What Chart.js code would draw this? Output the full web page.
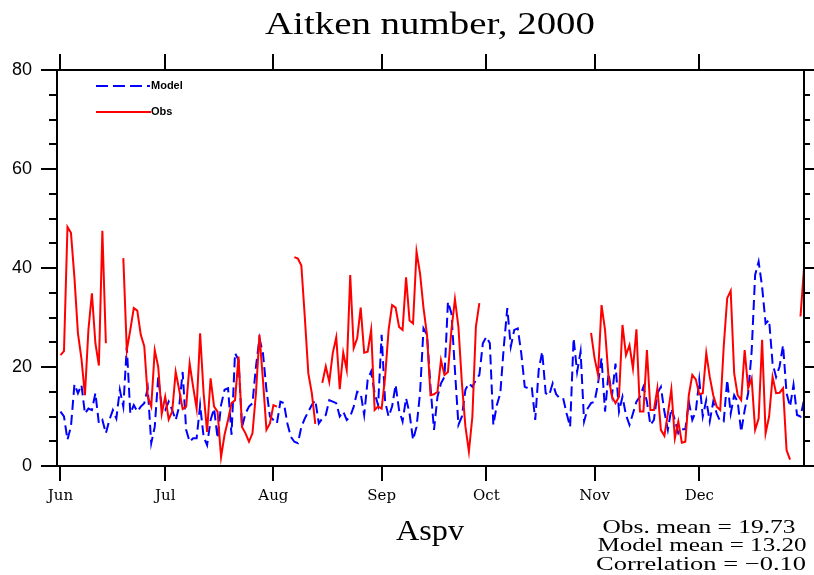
<!DOCTYPE html>
<html>
<head>
<meta charset="utf-8">
<script src="https://cdn.jsdelivr.net/npm/chart.js@4.4.0/dist/chart.umd.min.js"></script>
<style>
  html, body { margin: 0; padding: 0; background: #fff; }
  #wrap { width: 814px; height: 575px; }
</style>
</head>
<body>
<div id="wrap"><canvas id="aitken" width="814" height="575"></canvas></div>
<script>
// day index 0 = Jun 1, 2000; month ticks at first of each month
const monthStarts = [0, 30, 61, 92, 122, 153, 183];
const monthNames = ["Jun", "Jul", "Aug", "Sep", "Oct", "Nov", "Dec"];
const yTicks = [0, 20, 40, 60, 80];

const model = [
  11, 10, 5.3, 8, 16.5, 14.7, 16.4, 10.6, 11.6, 11.3,
  14.7, 8.6, 9.3, 6.6, 9.3, 11.3, 9.6, 15.4, 12, 24.1,
  10.6, 12.3, 11, 12, 12.7, 15.7, 4.6, 7.9, 18, 12,
  11.3, 13, 11.3, 9.3, 12, 19, 7.3, 4.9, 5.6, 5.6,
  12.3, 5.9, 4.2, 9.3, 11.6, 5.6, 12.3, 15.4, 15.7, 6.3,
  22.8, 21.4, 7.9, 10.6, 12, 12.7, 20.1, 25.8, 22.8, 15.4,
  10, 9.3, 8.6, 13, 12.7, 8.6, 5.9, 4.9, 4.6, 7.9,
  9.6, 11, 12.3, 13.3, 8.6, 9.6, 10.3, 13.3, 13, 12.7,
  10, 11, 9.3, 10, 12, 15, 14.7, 10.3, 17.4, 19.1,
  14.7, 12.3, 26.5, 13, 10, 12, 16.4, 11.3, 9, 13.7,
  10.6, 5.3, 7.9, 14.7, 27.8, 26.5, 16, 7.3, 14, 16.7,
  18, 33.2, 30.8, 19.4, 8.3, 10, 15.4, 16.7, 16, 17.4,
  18.4, 24.8, 26.1, 24.8, 8.3, 12.3, 14.7, 24.1, 31.9, 24.1,
  27.5, 27.8, 22.8, 16, 15.7, 16, 9.3, 19.4, 23.1, 14.7,
  14.3, 16.7, 14.5, 13.7, 13.7, 10.6, 7.9, 25.8, 19, 23.1,
  9, 11.6, 12.7, 13, 16.7, 21.8, 11, 18.7, 14.3, 20.7,
  11, 14, 10.3, 8.3, 10.6, 13, 14, 16, 13, 8.3,
  9.3, 14.7, 16, 11, 7.3, 11.6, 9.3, 6.6, 7.4, 7.4,
  13, 9.3, 11, 17.4, 10, 13.3, 9, 13, 10.6, 9,
  9, 17.4, 10.6, 14.3, 13, 6.9, 11.3, 14.7, 23.1, 38.6,
  41.3, 36.2, 28.8, 29.5, 20.7, 18, 20.1, 24.4, 14.7, 12,
  16.4, 10.3, 10, 13.3
];

const obs = [
  22.4, 23.2, 48.3, 47.1, 38, 26.8, 21.7, 14.3, 27.5, 34.9,
  24.8, 20.3, 47.5, 24.8, null, null, null, null, 42, 23.4,
  27.5, 31.9, 31.4, 26.5, 24.2, 14, 12, 23.4, 20, 10.5,
  14, 9.4, 11, 19, 15.4, 11.5, 12, 20.7, 16, 11.6,
  26.8, 14.7, 6.9, 17.7, 12, 11, 1.8, 6.3, 9.3, 12.7,
  13.3, 22.1, 7.9, 6.6, 4.9, 6.6, 14.7, 26.5, 17.4, 7.3,
  8.6, 12.3, 12, null, null, null, null, 42.2, 41.9, 40.5,
  30, 18.7, 14.7, 8.5, null, 16.8, 20.1, 17, 22.8, 26,
  15.5, 22.9, 19.4, 38.6, 23.8, 25.8, 32, 22.9, 23.1, 27.5,
  11.3, 12, 11.6, 18, 27.5, 32.5, 32, 28.1, 27.5, 38.1,
  29.4, 28.8, 43.3, 38.9, 31.9, 26.5, 14.3, 14.5, 15, 21.4,
  18.4, 19, 27.5, 33.7, 28.1, 16.7, 8, 2.9, 10, 28.1,
  32.9, null, null, null, null, null, null, null, null, null,
  null, null, null, null, null, null, null, null, null, null,
  null, null, null, null, null, null, null, null, null, null,
  null, null, 26.9, 21.8, 18.4, 32.5, 27.5, 18, 14, 12.7,
  14, 28.5, 22.4, 24.4, 19.7, 27.6, 11, 11, 23.4, 11.3,
  11.3, 15.7, 7.3, 6.1, 10.6, 15.5, 5.6, 9, 4.7, 4.9,
  14.3, 18.4, 17.5, 14.5, 14.7, 22.8, 18, 14.3, 12, 11.3,
  24.1, 33.9, 35.4, 18.7, 14.3, 13.3, 23.4, 15.7, 17.7, 7.3,
  9.6, 25.5, 6.6, 10, 18, 14.7, 14.8, 15.7, 3.2, 1.3,
  null, null, 30.2, 40
];

const toPoints = arr => arr.map((v, i) => ({ x: i, y: v }));

// draw text squeezed/stretched to a given width
function fitText(ctx, text, cx, baseY, font, width) {
  ctx.save();
  ctx.font = font;
  const w = ctx.measureText(text).width;
  ctx.translate(cx, baseY);
  ctx.scale(width / w, 1);
  ctx.textAlign = "center";
  ctx.textBaseline = "alphabetic";
  ctx.fillText(text, 0, 0);
  ctx.restore();
}

const framePlugin = {
  id: "frame",
  afterDraw(chart) {
    const { ctx, chartArea: a, scales } = chart;
    const x = scales.x, y = scales.y;
    ctx.save();
    ctx.strokeStyle = "#000";
    ctx.fillStyle = "#000";
    ctx.lineWidth = 2;
    ctx.strokeRect(a.left, a.top, a.right - a.left, a.bottom - a.top);

    ctx.beginPath();
    for (let v = 0; v <= 80; v += 5) {
      const py = Math.round(y.getPixelForValue(v));
      const major = v % 20 === 0;
      ctx.moveTo(a.left - (major ? 16 : 8), py);
      ctx.lineTo(a.left, py);
      ctx.moveTo(a.right, py);
      ctx.lineTo(a.right + (major ? 10 : 6), py);
    }
    monthStarts.forEach(d => {
      const px = Math.round(x.getPixelForValue(d));
      ctx.moveTo(px, a.top - 16);
      ctx.lineTo(px, a.top);
      ctx.moveTo(px, a.bottom);
      ctx.lineTo(px, a.bottom + 15);
    });
    ctx.stroke();

    // legend
    ctx.lineWidth = 2;
    ctx.strokeStyle = "#0000ff";
    ctx.setLineDash([12, 5]);
    ctx.beginPath();
    ctx.moveTo(96, 86);
    ctx.lineTo(150, 86);
    ctx.stroke();
    ctx.setLineDash([]);
    ctx.strokeStyle = "#ff0000";
    ctx.beginPath();
    ctx.moveTo(96, 112);
    ctx.lineTo(151, 112);
    ctx.stroke();
    ctx.font = "bold 11px 'Liberation Sans'";
    ctx.textBaseline = "middle";
    ctx.textAlign = "left";
    ctx.fillText("Model", 151, 86);
    ctx.fillText("Obs", 151, 112);

    // title and annotations
    fitText(ctx, "Aitken number, 2000", 430, 34, "32px 'Liberation Serif'", 330);
    fitText(ctx, "Aspv", 430, 540, "30px 'Liberation Serif'", 68);
    fitText(ctx, "Obs. mean = 19.73", 699, 533, "19px 'Liberation Serif'", 193);
    fitText(ctx, "Model mean = 13.20", 702, 551, "19px 'Liberation Serif'", 209);
    fitText(ctx, "Correlation = \u22120.10", 701, 570, "19px 'Liberation Serif'", 210);
    ctx.restore();
  }
};

new Chart(document.getElementById("aitken"), {
  type: "line",
  data: {
    datasets: [
      {
        label: "Model",
        data: toPoints(model),
        borderColor: "#0000ff",
        borderWidth: 2,
        borderDash: [10, 5],
        pointRadius: 0,
        tension: 0,
        order: 2
      },
      {
        label: "Obs",
        data: toPoints(obs),
        borderColor: "#ff0000",
        borderWidth: 2,
        pointRadius: 0,
        tension: 0,
        spanGaps: false,
        order: 1
      }
    ]
  },
  options: {
    responsive: false,
    animation: false,
    layout: { padding: { top: 70, right: 10, left: 0, bottom: 0 } },
    plugins: { legend: { display: false }, tooltip: { enabled: false } },
    scales: {
      x: {
        type: "linear",
        min: -1,
        max: 213,
        grid: { display: false, drawTicks: false },
        border: { display: false },
        afterBuildTicks: s => { s.ticks = monthStarts.map(v => ({ value: v })); },
        afterFit: s => { s.height = 109; },
        ticks: {
          padding: 21,
          maxRotation: 0,
          autoSkip: false,
          color: "#000",
          font: { family: "'DejaVu Serif'", size: 15 },
          callback: v => monthNames[monthStarts.indexOf(v)]
        }
      },
      y: {
        min: 0,
        max: 80,
        grid: { display: false, drawTicks: false },
        border: { display: false },
        afterBuildTicks: s => { s.ticks = yTicks.map(v => ({ value: v })); },
        afterFit: s => { s.width = 57; },
        ticks: {
          padding: 25,
          color: "#000",
          font: { family: "'Liberation Sans'", size: 18 }
        }
      }
    }
  },
  plugins: [framePlugin]
});
</script>
</body>
</html>
